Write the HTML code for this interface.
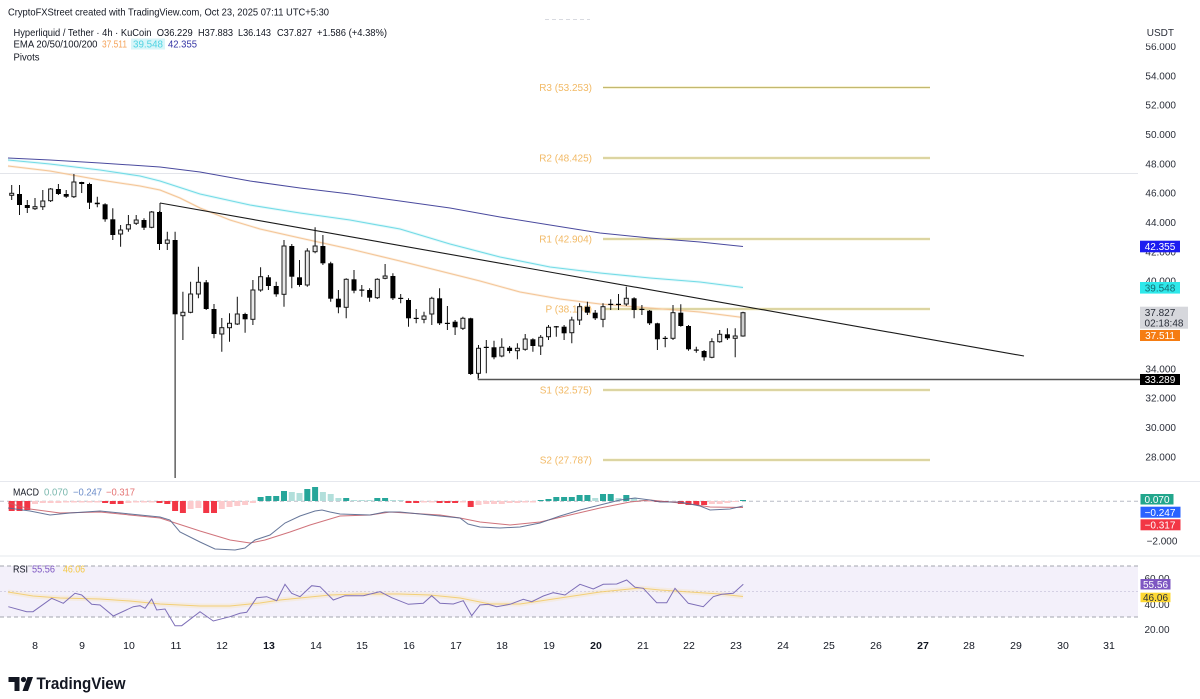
<!DOCTYPE html>
<html><head><meta charset="utf-8"><style>
html,body{margin:0;padding:0;background:#fff;}
svg{display:block;font-family:"Liberation Sans",Arial,sans-serif;}
</style></head><body>
<svg width="1200" height="699" viewBox="0 0 1200 699" xmlns="http://www.w3.org/2000/svg">
<rect width="1200" height="699" fill="#fff"/>

<!-- header -->
<text x="8" y="15.5" font-size="10.5" fill="#131722" textLength="321" lengthAdjust="spacingAndGlyphs">CryptoFXStreet created with TradingView.com, Oct 23, 2025 07:11 UTC+5:30</text>
<g font-size="10" fill="#131722">
<text x="13.5" y="36" textLength="138" lengthAdjust="spacingAndGlyphs">Hyperliquid / Tether · 4h · KuCoin</text>
<text x="156.7" y="36" textLength="36" lengthAdjust="spacingAndGlyphs">O36.229</text>
<text x="198" y="36" textLength="35" lengthAdjust="spacingAndGlyphs">H37.883</text>
<text x="238" y="36" textLength="33" lengthAdjust="spacingAndGlyphs">L36.143</text>
<text x="277" y="36" textLength="35" lengthAdjust="spacingAndGlyphs">C37.827</text>
<text x="317" y="36" textLength="70" lengthAdjust="spacingAndGlyphs">+1.586 (+4.38%)</text>
<text x="13.5" y="47.5" textLength="84" lengthAdjust="spacingAndGlyphs">EMA 20/50/100/200</text>
<text x="102" y="47.5" fill="#f5a35a" textLength="25" lengthAdjust="spacingAndGlyphs">37.511</text>
<rect x="131" y="38.5" width="34" height="11" fill="#d8f6f9"/>
<text x="133" y="47.5" fill="#4fd3e2" textLength="30" lengthAdjust="spacingAndGlyphs">39.548</text>
<text x="168" y="47.5" fill="#3535a5" textLength="29" lengthAdjust="spacingAndGlyphs">42.355</text>
<text x="13.5" y="60.5" textLength="26" lengthAdjust="spacingAndGlyphs">Pivots</text>
</g>

<!-- misc faint lines -->
<line x1="545" y1="19.5" x2="590" y2="19.5" stroke="#d8dae0" stroke-width="1" stroke-dasharray="4 3"/>
<line x1="0" y1="173.5" x2="1138" y2="173.5" stroke="#e3e5ea" stroke-width="1"/>

<!-- pivots -->
<g stroke="#f3eab8" stroke-width="3" opacity="0.6">
<line x1="603" y1="87.5" x2="930" y2="87.5"/><line x1="603" y1="158" x2="930" y2="158"/><line x1="603" y1="239" x2="930" y2="239"/>
<line x1="603" y1="309" x2="930" y2="309"/><line x1="603" y1="390" x2="930" y2="390"/><line x1="603" y1="460" x2="930" y2="460"/>
</g>
<g stroke="#c2b870" stroke-width="1">
<line x1="603" y1="87.5" x2="930" y2="87.5"/><line x1="603" y1="158" x2="930" y2="158"/><line x1="603" y1="239" x2="930" y2="239"/>
<line x1="603" y1="309" x2="930" y2="309"/><line x1="603" y1="390" x2="930" y2="390"/><line x1="603" y1="460" x2="930" y2="460"/>
</g>
<g font-size="10" fill="#f2ba66" text-anchor="end">
<text x="592" y="91">R3 (53.253)</text>
<text x="592" y="161.5">R2 (48.425)</text>
<text x="592" y="242.5">R1 (42.904)</text>
<text x="592" y="312.5">P (38.106)</text>
<text x="592" y="393.5">S1 (32.575)</text>
<text x="592" y="463.5">S2 (27.787)</text>
</g>

<!-- EMAs -->
<polyline fill="none" stroke="#c8f2f6" stroke-width="3" opacity="0.45" points="8,160 50,164 100,170 140,176 160,181 200,194 250,205 300,213 350,220 400,229 450,244 500,257 550,267 600,273 650,278 700,282 743,287.5"/>
<polyline fill="none" stroke="#72dbe6" stroke-width="1.1" points="8,160 50,164 100,170 140,176 160,181 200,194 250,205 300,213 350,220 400,229 450,244 500,257 550,267 600,273 650,278 700,282 743,287.5"/>
<polyline fill="none" stroke="#4a4a9e" stroke-width="1" points="8,158 50,160 100,163 160,167 200,172 250,181 300,188 350,194 400,201 450,208 500,217 550,225 600,233 650,238 700,242 743,246.5"/>
<polyline fill="none" stroke="#f8e0c6" stroke-width="2.5" opacity="0.45" points="8,166 50,171 100,180 140,186 160,190 180,198 200,208 230,220 260,229 300,238 350,249 400,261 440,271 480,281 520,292 560,299 600,304 650,308 700,312 743,317.5"/>
<polyline fill="none" stroke="#f4c596" stroke-width="1" points="8,166 50,171 100,180 140,186 160,190 180,198 200,208 230,220 260,229 300,238 350,249 400,261 440,271 480,281 520,292 560,299 600,304 650,308 700,312 743,317.5"/>

<!-- trendline & support -->
<line x1="160" y1="203" x2="1024" y2="356" stroke="#1a1a1a" stroke-width="1.1"/>
<line x1="160" y1="203" x2="160" y2="212" stroke="#1a1a1a" stroke-width="1"/>
<line x1="478" y1="379.5" x2="1140" y2="379.5" stroke="#555" stroke-width="1.6"/>
<line x1="478" y1="373" x2="478" y2="379.5" stroke="#555" stroke-width="1"/>

<!-- candles wicks -->
<path fill="none" stroke="#111" stroke-width="1" d="M11.7 185V200M19.5 185V215M27.3 200V213M35 198V210M42.8 190V210M50.6 188V202M58.4 184V195M66.2 190V198M73.9 174V198M81.7 181.7V193M89.5 182.7V209M97.3 196.7V207.3M105.1 203.3V221.7M112.8 208.3V240M120.6 225V246.7M128.4 215V231.7M136.2 215V225M144 218.3V230M151.7 211V228.3M159.5 211V250M167.3 231.7V250M175.1 231.7V478M182.9 291.7V340M190.6 281.7V313.3M198.4 266.7V298.3M206.2 280V310M214 304V338.3M221.8 318V351.7M229.5 313.3V341.7M237.3 296.7V325M245.1 312.7V332.7M252.9 280V325M260.6 267.3V291.7M268.4 275V290M276.2 281.7V296.7M284 240V306.7M291.8 244V288.3M299.5 260V286.7M307.3 248.3V286.7M315.1 227.3V253.3M322.9 235V265M330.7 261.7V301.7M338.4 290V313.3M346.2 278.3V318.3M354 270V293.3M361.8 285V296.7M369.6 288.3V301.7M377.3 278.3V299M385.1 264V279.3M392.9 273.3V300M400.7 294V303.3M408.5 298.3V326.7M416.2 309V323.3M424 311.7V323.3M431.8 296.7V325M439.6 288.3V325M447.4 306V330M455.1 320V335M462.9 316.7V330M470.7 317.7V375M478.5 345V378.3M486.3 340V373.3M494 340.7V359.3M501.8 338.3V357.3M509.6 346V353.3M517.4 343.3V359.3M525.2 334V350.7M532.9 338.3V351.7M540.7 335V355M548.5 325V340M556.3 326V336.7M564.1 325V340M571.8 316.7V343.3M579.6 303.3V325M587.4 301.7V315M595.2 310V320M603 303.3V327.3M610.7 299.3V310M618.5 294V310M626.3 286.7V306M634.1 297.3V318.3M641.9 305V315M649.6 310V325M657.4 322.7V350M665.2 336V347.3M673 305V340M680.8 304.3V326.7M688.5 325V350.7M696.3 346.7V352.7M704.1 350V360.7M711.9 338.3V358.3M719.7 330V342.7M727.4 328.3V340M735.2 328.3V357.3M743 311.7V336.7"/>
<!-- black bodies -->
<g fill="#000">
<rect x="17" y="194" width="5" height="11"/><rect x="24.8" y="205" width="5" height="3"/><rect x="55.9" y="189" width="5" height="5"/><rect x="63.7" y="194" width="5" height="2.7"/><rect x="79.2" y="182" width="5" height="2"/><rect x="87" y="184" width="5" height="18.7"/><rect x="94.8" y="202.7" width="5" height="1.5"/><rect x="102.6" y="204.3" width="5" height="15"/><rect x="110.3" y="219.3" width="5" height="15.7"/><rect x="141.5" y="220" width="5" height="7.7"/><rect x="157" y="212" width="5" height="32"/><rect x="172.6" y="240" width="5" height="74.3"/><rect x="203.7" y="282.3" width="5" height="26.7"/><rect x="211.5" y="309" width="5" height="25"/><rect x="242.6" y="314" width="5" height="5.3"/><rect x="265.9" y="277.3" width="5" height="8.7"/><rect x="273.7" y="286" width="5" height="8.3"/><rect x="289.3" y="246" width="5" height="30.7"/><rect x="297" y="277.3" width="5" height="7.7"/><rect x="320.4" y="246" width="5" height="17.3"/><rect x="328.2" y="263.3" width="5" height="35.4"/><rect x="335.9" y="298.7" width="5" height="8.6"/><rect x="351.5" y="279.3" width="5" height="11.4"/><rect x="367.1" y="290" width="5" height="7.7"/><rect x="390.4" y="276" width="5" height="22.3"/><rect x="406" y="300" width="5" height="18.3"/><rect x="437.1" y="298.3" width="5" height="25"/><rect x="452.6" y="321.7" width="5" height="5.6"/><rect x="468.2" y="318.3" width="5" height="55.7"/><rect x="491.5" y="347.3" width="5" height="10"/><rect x="507.1" y="347.7" width="5" height="3.3"/><rect x="530.4" y="339.3" width="5" height="6.7"/><rect x="561.6" y="326.7" width="5" height="6.6"/><rect x="584.9" y="306.7" width="5" height="6"/><rect x="592.7" y="312.7" width="5" height="5.6"/><rect x="631.6" y="298.3" width="5" height="11.7"/><rect x="647.1" y="310.7" width="5" height="12.6"/><rect x="654.9" y="323.3" width="5" height="16"/><rect x="678.3" y="312.7" width="5" height="13.3"/><rect x="686" y="326" width="5" height="23.3"/><rect x="701.6" y="351" width="5" height="6.3"/><rect x="724.9" y="334.3" width="5" height="4"/>
<!-- crosses -->
<rect x="359.3" y="289.5" width="5" height="1.2"/><rect x="398.2" y="297.8" width="5" height="1.2"/><rect x="413.7" y="317.8" width="5" height="1.2"/><rect x="444.9" y="322.8" width="5" height="1.2"/><rect x="483.8" y="346.8" width="5" height="1.2"/><rect x="553.8" y="326.2" width="5" height="1.2"/><rect x="608.2" y="303.8" width="5" height="1.2"/><rect x="616" y="303.8" width="5" height="1.2"/><rect x="639.4" y="308.8" width="5" height="1.2"/><rect x="662.7" y="337.8" width="5" height="1.2"/><rect x="693.8" y="349.5" width="5" height="1.2"/>
</g>
<!-- white bodies -->
<g fill="#e9e9e9" stroke="#1a1a1a" stroke-width="1">
<rect x="9.7" y="193.3" width="4" height="2"/><rect x="33" y="206.7" width="4" height="2"/><rect x="40.8" y="201" width="4" height="5.7"/><rect x="48.6" y="189" width="4" height="11.7"/><rect x="71.9" y="182" width="4" height="14.7"/><rect x="118.6" y="230" width="4" height="4"/><rect x="126.4" y="224.7" width="4" height="4.3"/><rect x="134.2" y="220" width="4" height="3.3"/><rect x="149.7" y="212" width="4" height="15.3"/><rect x="165.3" y="240" width="4" height="3.3"/><rect x="180.9" y="312.3" width="4" height="3.4"/><rect x="188.6" y="294" width="4" height="18.3"/><rect x="196.4" y="282.3" width="4" height="11.7"/><rect x="219.8" y="327.7" width="4" height="6.3"/><rect x="227.5" y="323.3" width="4" height="4.4"/><rect x="235.3" y="314" width="4" height="10"/><rect x="250.9" y="290" width="4" height="29.3"/><rect x="258.6" y="276.7" width="4" height="13.3"/><rect x="282" y="246" width="4" height="48.3"/><rect x="305.3" y="251" width="4" height="34"/><rect x="313.1" y="246" width="4" height="5.7"/><rect x="344.2" y="279.3" width="4" height="28"/><rect x="375.3" y="279.3" width="4" height="18.4"/><rect x="383.1" y="276" width="4" height="2.3"/><rect x="422" y="316" width="4" height="3.3"/><rect x="429.8" y="298.3" width="4" height="15.7"/><rect x="460.9" y="318.3" width="4" height="10"/><rect x="476.5" y="348.3" width="4" height="25"/><rect x="499.8" y="347.3" width="4" height="8.7"/><rect x="515.4" y="348.3" width="4" height="2.4"/><rect x="523.2" y="339" width="4" height="10.3"/><rect x="538.7" y="337.3" width="4" height="8.7"/><rect x="546.5" y="327.3" width="4" height="9.4"/><rect x="569.8" y="320" width="4" height="12.7"/><rect x="577.6" y="306.7" width="4" height="13.3"/><rect x="601" y="306.7" width="4" height="12.6"/><rect x="624.3" y="298.3" width="4" height="5.7"/><rect x="671" y="312.7" width="4" height="25.6"/><rect x="709.9" y="341.7" width="4" height="15.6"/><rect x="717.7" y="334.3" width="4" height="7.4"/><rect x="733.2" y="336" width="4" height="2.3"/><rect x="741" y="312.7" width="4" height="23.3" fill="#cfcfcf"/>
</g>

<!-- right price axis -->
<g font-size="10" fill="#2a2e39" text-anchor="end">
<text x="1174" y="36">USDT</text>
<text x="1176" y="50">56.000</text>
<text x="1176" y="79.5">54.000</text>
<text x="1176" y="108.5">52.000</text>
<text x="1176" y="138">50.000</text>
<text x="1176" y="167.5">48.000</text>
<text x="1176" y="196.5">46.000</text>
<text x="1176" y="226">44.000</text>
<text x="1176" y="255.5">42.000</text>
<text x="1176" y="284.5">40.000</text>
<text x="1176" y="372.5">34.000</text>
<text x="1176" y="401.5">32.000</text>
<text x="1176" y="431">30.000</text>
<text x="1176" y="460.5">28.000</text>
</g>
<rect x="1140" y="37.5" width="40" height="6" fill="#fff"/>
<g font-size="10" text-anchor="middle">
<rect x="1140" y="240.7" width="40" height="11.6" fill="#1c1cf0"/>
<text x="1160" y="250" fill="#fff">42.355</text>
<rect x="1140" y="282" width="40" height="11.6" fill="#2ee8ea"/>
<text x="1160" y="291.3" fill="#156a70">39.548</text>
<rect x="1140" y="306.7" width="48" height="22" fill="#d6d7dc"/>
<text x="1160" y="316" fill="#2a2e39">37.827</text>
<text x="1164" y="326.5" fill="#2a2e39">02:18:48</text>
<rect x="1140" y="330" width="40" height="11" fill="#f57c12"/>
<text x="1160" y="339" fill="#fff">37.511</text>
<rect x="1140" y="374" width="40" height="11" fill="#000"/>
<text x="1160" y="383" fill="#fff">33.289</text>
</g>

<!-- pane separators -->
<line x1="0" y1="481.5" x2="1200" y2="481.5" stroke="#e6e8ee" stroke-width="1"/>
<line x1="0" y1="556" x2="1200" y2="556" stroke="#e6e8ee" stroke-width="1"/>

<!-- MACD pane -->
<line x1="0" y1="501.3" x2="1138" y2="501.3" stroke="#b8bcc6" stroke-width="1" stroke-dasharray="4 3"/>
<g fill="#f23645">
<rect x="8.7" y="501" width="6" height="10"/><rect x="16.5" y="501" width="6" height="10"/><rect x="24.3" y="501" width="6" height="9"/><rect x="102.1" y="501" width="6" height="2"/><rect x="109.8" y="501" width="6" height="3"/><rect x="117.6" y="501" width="6" height="3"/><rect x="156.5" y="501" width="6" height="2"/><rect x="164.3" y="501" width="6" height="3"/><rect x="172.1" y="501" width="6" height="10"/><rect x="179.9" y="501" width="6" height="12"/><rect x="203.2" y="501" width="6" height="12"/><rect x="211" y="501" width="6" height="12"/><rect x="405.5" y="501" width="6" height="2"/><rect x="413.2" y="501" width="6" height="2"/><rect x="436.6" y="501" width="6" height="2"/><rect x="444.4" y="501" width="6" height="2"/><rect x="452.1" y="501" width="6" height="2"/><rect x="467.7" y="501" width="6" height="6"/><rect x="654.4" y="501" width="6" height="1"/><rect x="662.2" y="501" width="6" height="1"/><rect x="677.8" y="501" width="6" height="3"/><rect x="685.5" y="501" width="6" height="4"/><rect x="693.3" y="501" width="6" height="4"/><rect x="701.1" y="501" width="6" height="4"/>
</g>
<g fill="#fccbcd">
<rect x="32" y="501" width="6" height="3"/><rect x="39.8" y="501" width="6" height="2"/><rect x="47.6" y="501" width="6" height="2"/><rect x="55.4" y="501" width="6" height="2"/><rect x="63.2" y="501" width="6" height="1.5"/><rect x="70.9" y="501" width="6" height="1.5"/><rect x="78.7" y="501" width="6" height="1.5"/><rect x="86.5" y="501" width="6" height="1.5"/><rect x="94.3" y="501" width="6" height="1.5"/><rect x="125.4" y="501" width="6" height="2"/><rect x="133.2" y="501" width="6" height="1.5"/><rect x="141" y="501" width="6" height="1.5"/><rect x="148.7" y="501" width="6" height="1.5"/><rect x="187.6" y="501" width="6" height="8"/><rect x="195.4" y="501" width="6" height="7"/><rect x="218.8" y="501" width="6" height="8"/><rect x="226.5" y="501" width="6" height="6"/><rect x="234.3" y="501" width="6" height="5"/><rect x="242.1" y="501" width="6" height="4"/><rect x="249.9" y="501" width="6" height="2"/><rect x="421" y="501" width="6" height="1.5"/><rect x="428.8" y="501" width="6" height="1.5"/><rect x="459.9" y="501" width="6" height="1.5"/><rect x="475.5" y="501" width="6" height="4"/><rect x="483.3" y="501" width="6" height="3"/><rect x="491" y="501" width="6" height="3"/><rect x="498.8" y="501" width="6" height="3"/><rect x="506.6" y="501" width="6" height="2"/><rect x="514.4" y="501" width="6" height="2"/><rect x="522.2" y="501" width="6" height="1.5"/><rect x="529.9" y="501" width="6" height="1.5"/><rect x="646.6" y="501" width="6" height="1"/><rect x="670" y="501" width="6" height="1"/><rect x="708.9" y="501" width="6" height="3"/><rect x="716.7" y="501" width="6" height="3"/><rect x="724.4" y="501" width="6" height="2"/><rect x="732.2" y="501" width="6" height="1"/>
</g>
<g fill="#26a69a">
<rect x="257.6" y="497" width="6" height="4"/><rect x="265.4" y="496" width="6" height="5"/><rect x="273.2" y="496" width="6" height="5"/><rect x="281" y="491" width="6" height="10"/><rect x="304.3" y="489" width="6" height="12"/><rect x="312.1" y="487" width="6" height="14"/><rect x="343.2" y="498" width="6" height="3"/><rect x="374.3" y="498" width="6" height="3"/><rect x="382.1" y="498" width="6" height="3"/><rect x="537.7" y="500" width="6" height="1"/><rect x="545.5" y="499" width="6" height="2"/><rect x="553.3" y="497" width="6" height="4"/><rect x="561.1" y="497" width="6" height="4"/><rect x="568.8" y="497" width="6" height="4"/><rect x="576.6" y="495" width="6" height="6"/><rect x="584.4" y="495" width="6" height="6"/><rect x="600" y="494" width="6" height="7"/><rect x="607.7" y="494" width="6" height="7"/><rect x="623.3" y="495" width="6" height="6"/><rect x="740" y="500" width="6" height="1"/>
</g>
<g fill="#b2dfdb">
<rect x="288.8" y="492" width="6" height="9"/><rect x="296.5" y="493" width="6" height="8"/><rect x="319.9" y="492" width="6" height="9"/><rect x="327.7" y="494" width="6" height="7"/><rect x="335.4" y="498" width="6" height="3"/><rect x="351" y="500" width="6" height="1"/><rect x="358.8" y="500" width="6" height="1"/><rect x="366.6" y="500" width="6" height="1"/><rect x="389.9" y="500" width="6" height="1"/><rect x="397.7" y="500" width="6" height="1"/><rect x="592.2" y="498" width="6" height="3"/><rect x="615.5" y="498" width="6" height="3"/><rect x="631.1" y="498" width="6" height="3"/><rect x="638.9" y="500" width="6" height="1"/>
</g>
<polyline fill="none" stroke="#c85a64" stroke-width="1" opacity="0.85" points="8,503 30,509 60,513 100,512 140,516 160,518 200,531 230,540 250,543 265,540 290,532 310,525 340,516 370,515 390,512 440,515 460,518 480,522 510,525 540,522 570,515 600,508 630,502 650,500 670,502 690,504 710,507 743,507.5"/>
<polyline fill="none" stroke="#56688f" stroke-width="1" opacity="0.9" points="8,508 30,511 50,515 70,513 85,512 100,511 130,514 160,517 170,520 180,532 200,542 215,549 235,550 245,548 255,540 270,535 285,523 300,516 315,511 322,510 330,512 340,514 370,515 385,512 400,512 420,514 440,516 460,518 468,524 480,527 500,528 520,527 540,523 560,516 580,510 600,505 620,500 635,498 650,500 660,502 680,502 700,506 710,510 730,509 743,506"/>
<g font-size="10">
<text x="13" y="495.5" fill="#131722" textLength="26" lengthAdjust="spacingAndGlyphs">MACD</text>
<text x="44" y="495.5" fill="#7ab8ae" textLength="24" lengthAdjust="spacingAndGlyphs">0.070</text>
<text x="73" y="495.5" fill="#6b8cc9" textLength="29" lengthAdjust="spacingAndGlyphs">−0.247</text>
<text x="106" y="495.5" fill="#e57373" textLength="29" lengthAdjust="spacingAndGlyphs">−0.317</text>
</g>
<g font-size="10" text-anchor="middle">
<rect x="1140.5" y="494" width="33" height="10.5" fill="#22a68c"/>
<text x="1157" y="503" fill="#fff">0.070</text>
<rect x="1140.5" y="506.7" width="40" height="11" fill="#2962ff"/>
<text x="1160" y="515.8" fill="#fff">−0.247</text>
<rect x="1140.5" y="519.3" width="40" height="11" fill="#f23645"/>
<text x="1160" y="528.4" fill="#fff">−0.317</text>
<text x="1162" y="544.5" fill="#2a2e39">−2.000</text>
</g>

<!-- RSI pane -->
<rect x="0" y="566" width="1138" height="51" fill="#f3f0fa"/>
<line x1="0" y1="566" x2="1138" y2="566" stroke="#a3a6af" stroke-width="1" stroke-dasharray="4 3"/>
<line x1="0" y1="617" x2="1138" y2="617" stroke="#a3a6af" stroke-width="1" stroke-dasharray="4 3"/>
<line x1="0" y1="591.5" x2="1138" y2="591.5" stroke="#d4d0e4" stroke-width="1" stroke-dasharray="2 2"/>
<polyline fill="none" stroke="#f7d97a" stroke-width="5" opacity="0.18" points="8,592 33,596 60,598 100,599 130,601 160,604 200,606 230,606 260,603 280,600 310,597 330,595 360,594 400,594 430,595 460,598 490,604 520,604 560,598 600,592 620,590 640,588 660,590 690,592 720,594 743,596.5"/>
<polyline fill="none" stroke="#f2c85a" stroke-width="1" opacity="0.8" points="8,592 33,596 60,598 100,599 130,601 160,604 200,606 230,606 260,603 280,600 310,597 330,595 360,594 400,594 430,595 460,598 490,604 520,604 560,598 600,592 620,590 640,588 660,590 690,592 720,594 743,596.5"/>
<polyline fill="none" stroke="#7e6fb8" stroke-width="1" points="8.3,606.7 26.7,611.7 33,611.7 51.7,598.3 63.3,603.3 75,593.3 81.7,595 91.7,604.3 100,605 113.3,616 133.3,606.7 140,605.7 145,608.3 151.7,599 156.7,610 165,609 175,625.7 181.7,625.7 200,611.7 213.3,621 230,616.7 240,613.3 246.7,612.3 256.7,597.7 266.7,596.7 276.7,600.7 285,584.3 291.7,593.3 300,596.7 311.7,585.7 320,586.7 333.3,600 345,595.7 363.3,595.7 380,591.7 391.7,597.7 408.3,604.3 423.3,603.3 431.7,595.7 440,603.3 453.3,604 463.3,600.7 471.7,615.7 480,605 488.3,604.3 496.7,606.7 510,604.3 523.3,599.3 531.7,601.7 543.3,596 553.3,592.7 565,595 580,584.3 593.3,589 603.3,584.3 616.7,584 626.7,580 635,587.3 643.3,588.3 656.7,602.7 666.7,602.7 675,588.3 688.3,603.3 703.3,606.7 713.3,596.7 721.7,594.3 733.3,593.3 743.3,584.3"/>
<g font-size="10">
<text x="13" y="572.5" fill="#131722" textLength="15" lengthAdjust="spacingAndGlyphs">RSI</text>
<text x="32" y="572.5" fill="#7e57c2" textLength="23" lengthAdjust="spacingAndGlyphs">55.56</text>
<text x="63" y="572.5" fill="#f5c842" textLength="22" lengthAdjust="spacingAndGlyphs">46.06</text>
</g>
<g font-size="10" text-anchor="middle">
<text x="1157" y="582" fill="#2a2e39">60.00</text>
<text x="1157" y="608" fill="#2a2e39">40.00</text>
<text x="1157" y="633" fill="#2a2e39">20.00</text>
<rect x="1140.5" y="579" width="30" height="10.5" fill="#7e57c2"/>
<text x="1155.5" y="588" fill="#fff">55.56</text>
<rect x="1140.5" y="592.7" width="30" height="9.5" fill="#fdd835"/>
<text x="1155.5" y="601.2" fill="#2a2e39">46.06</text>
</g>

<!-- x axis -->
<rect x="0" y="633" width="1200" height="66" fill="#fff"/>
<g font-size="10.5" fill="#131722" text-anchor="middle">
<text x="35" y="649">8</text><text x="82" y="649">9</text><text x="129" y="649">10</text><text x="176" y="649">11</text><text x="222" y="649">12</text>
<text x="269" y="649" font-weight="bold">13</text><text x="316" y="649">14</text><text x="362" y="649">15</text><text x="409" y="649">16</text><text x="456" y="649">17</text><text x="502" y="649">18</text><text x="549" y="649">19</text>
<text x="596" y="649" font-weight="bold">20</text><text x="643" y="649">21</text><text x="689" y="649">22</text><text x="736" y="649">23</text><text x="783" y="649">24</text><text x="829" y="649">25</text><text x="876" y="649">26</text>
<text x="923" y="649" font-weight="bold">27</text><text x="969" y="649">28</text><text x="1016" y="649">29</text><text x="1063" y="649">30</text><text x="1109" y="649">31</text>
</g>

<!-- TradingView logo -->
<g fill="#131722">
<rect x="8.5" y="677" width="11" height="5"/>
<rect x="14.5" y="677" width="5" height="14"/>
<circle cx="23.5" cy="679.5" r="2.6"/>
<polygon points="27.5,677 33,677 28,691 22.5,691"/>
</g>
<text x="36.5" y="689" font-size="17" font-weight="bold" fill="#131722" textLength="89" lengthAdjust="spacingAndGlyphs">TradingView</text>
</svg>
</body></html>
